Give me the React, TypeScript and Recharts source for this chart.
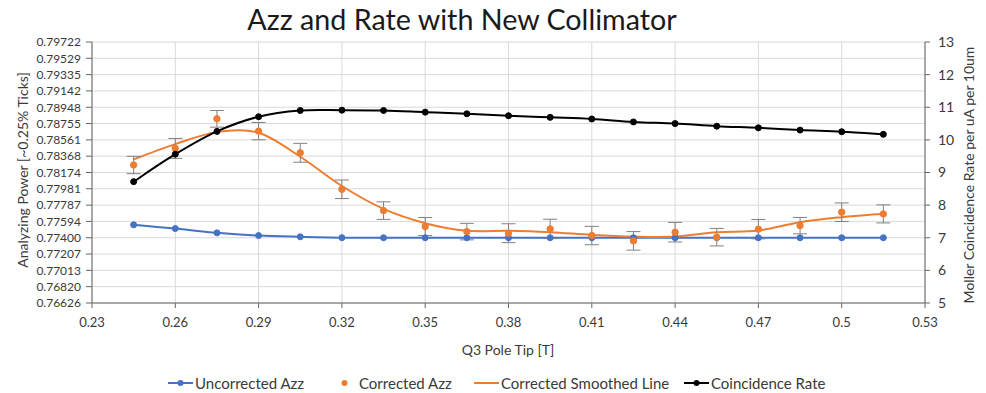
import React from "react";
import {
  ComposedChart,
  Line,
  Scatter,
  ErrorBar,
  XAxis,
  YAxis,
  CartesianGrid,
} from "recharts";

// Q3 pole tip field settings [T]
const poleTip = [
  0.245, 0.26, 0.275, 0.29, 0.305, 0.32, 0.335, 0.35, 0.365, 0.38,
  0.395, 0.41, 0.425, 0.44, 0.455, 0.47, 0.485, 0.5, 0.515,
];

const uncorrectedAzz = [
  0.77553, 0.77509, 0.77458, 0.77426, 0.77411, 0.77401, 0.774, 0.774, 0.774, 0.774,
  0.774, 0.774, 0.774, 0.774, 0.774, 0.774, 0.774, 0.774, 0.774,
];

const correctedAzz = [
  0.78263, 0.7846, 0.78811, 0.78665, 0.78408, 0.77975, 0.77722, 0.77533, 0.77473, 0.77454,
  0.77505, 0.77426, 0.77363, 0.77466, 0.77407, 0.77502, 0.77544, 0.77703, 0.77683,
];

const correctedErr = [
  0.00103, 0.00118, 0.00099, 0.00103, 0.00112, 0.0011, 0.00104, 0.00107, 0.00098, 0.00112,
  0.00115, 0.00109, 0.0011, 0.00116, 0.00104, 0.00115, 0.00097, 0.0011, 0.00107,
];

const smoothedAzz = [
  0.7833, 0.78511, 0.78653, 0.78645, 0.78361, 0.78014, 0.77742, 0.77573, 0.77482, 0.77482,
  0.77466, 0.77434, 0.77414, 0.77414, 0.77466, 0.77485, 0.77585, 0.77644, 0.77686,
];

const coincidenceRate = [
  8.72, 9.56, 10.26, 10.71, 10.9, 10.91, 10.9, 10.85, 10.8, 10.74,
  10.69, 10.64, 10.55, 10.5, 10.42, 10.37, 10.3, 10.25, 10.17,
];

const azzTicks = [
  0.76626, 0.7682, 0.77013, 0.77207, 0.774, 0.77594, 0.77787, 0.77981, 0.78174,
  0.78368, 0.78561, 0.78755, 0.78948, 0.79142, 0.79335, 0.79529, 0.79722,
];
const rateTicks = [5, 6, 7, 8, 9, 10, 11, 12, 13];
const fieldTicks = [0.23, 0.26, 0.29, 0.32, 0.35, 0.38, 0.41, 0.44, 0.47, 0.5, 0.53];

const rows = poleTip.map((x, i) => ({
  x,
  uncorrected: uncorrectedAzz[i],
  corrected: correctedAzz[i],
  err: correctedErr[i],
  smoothed: smoothedAzz[i],
  rate: coincidenceRate[i],
}));

const BLUE = "#4472c4";
const ORANGE = "#ed7d31";
const BLACK = "#000000";
const AXIS = "#666666";
const TEXT = "#3a3a3a";
const FONT = "Lato, 'Open Sans', sans-serif";

// spreadsheet-style smoothed line: cubic Bezier through each point,
// control handles from the neighbouring points (Catmull-Rom, 1/6)
const smoothCurve: any = (context: any) => {
  let pts: number[][] = [];
  return {
    areaStart() {},
    areaEnd() {},
    lineStart() {
      pts = [];
    },
    point(x: number, y: number) {
      pts.push([+x, +y]);
    },
    lineEnd() {
      if (!pts.length) return;
      context.moveTo(pts[0][0], pts[0][1]);
      for (let i = 0; i < pts.length - 1; i++) {
        const p0 = pts[Math.max(i - 1, 0)];
        const p1 = pts[i];
        const p2 = pts[i + 1];
        const p3 = pts[Math.min(i + 2, pts.length - 1)];
        context.bezierCurveTo(
          p1[0] + (p2[0] - p0[0]) / 6,
          p1[1] + (p2[1] - p0[1]) / 6,
          p2[0] - (p3[0] - p1[0]) / 6,
          p2[1] - (p3[1] - p1[1]) / 6,
          p2[0],
          p2[1]
        );
      }
    },
  };
};

const orangeDot = (props: any) => (
  <circle cx={props.cx} cy={props.cy} r={3.2} fill={ORANGE} stroke={ORANGE} />
);

function LegendIcon({ color, line, dot }: { color: string; line: boolean; dot: boolean }) {
  return (
    <svg width={25} height={10} style={{ display: "block" }}>
      {line && <line x1={0} y1={5} x2={25} y2={5} stroke={color} strokeWidth={2} />}
      {dot && <circle cx={12.5} cy={5} r={3} fill={color} />}
    </svg>
  );
}

const legendItems = [
  { label: "Uncorrected Azz", color: BLUE, line: true, dot: true, left: 168 },
  { label: "Corrected Azz", color: ORANGE, line: false, dot: true, left: 332 },
  { label: "Corrected Smoothed Line", color: ORANGE, line: true, dot: false, left: 474 },
  { label: "Coincidence Rate", color: BLACK, line: true, dot: true, left: 684 },
];

export default function App() {
  return (
    <div
      style={{
        position: "absolute",
        left: 0,
        top: 0,
        width: 986,
        height: 393,
        background: "#fff",
        fontFamily: FONT,
        overflow: "hidden",
      }}
    >
      <div
        style={{
          position: "absolute",
          left: 462,
          top: 4,
          transform: "translateX(-50%)",
          fontSize: 28.7,
          lineHeight: "30px",
          whiteSpace: "nowrap",
          color: "#1a1a1a",
        }}
      >
        Azz and Rate with New Collimator
      </div>

      <ComposedChart
        width={986}
        height={393}
        data={rows}
        margin={{ top: 42, right: 0, bottom: 60, left: 0 }}
      >
        <CartesianGrid yAxisId="left" stroke="#d9d9d9" strokeWidth={1} />
        <XAxis
          dataKey="x"
          type="number"
          domain={[0.23, 0.53]}
          ticks={fieldTicks}
          interval={0}
          allowDataOverflow
          height={30}
          tickSize={5}
          tickMargin={10}
          stroke={AXIS}
          tick={{ fontSize: 13, fill: TEXT, fontFamily: FONT }}
          tickFormatter={(v: number) => String(+v.toFixed(2))}
        />
        <YAxis
          yAxisId="left"
          type="number"
          domain={[0.76626, 0.79722]}
          ticks={azzTicks}
          interval={0}
          allowDataOverflow
          width={92}
          tickSize={6}
          tickMargin={5}
          stroke={AXIS}
          tick={{ fontSize: 12, fill: TEXT, fontFamily: FONT }}
          tickFormatter={(v: number) => v.toFixed(5)}
        />
        <YAxis
          yAxisId="right"
          orientation="right"
          type="number"
          domain={[5, 13]}
          ticks={rateTicks}
          interval={0}
          allowDataOverflow
          width={61}
          tickSize={5}
          tickMargin={8}
          stroke={AXIS}
          tick={{ fontSize: 14, fill: TEXT, fontFamily: FONT }}
        />

        <Line
          yAxisId="left"
          dataKey="uncorrected"
          type={smoothCurve}
          stroke={BLUE}
          strokeWidth={2}
          dot={{ r: 3, fill: BLUE, stroke: BLUE, strokeWidth: 1 }}
          activeDot={false}
          isAnimationActive={false}
        />
        <Line
          yAxisId="left"
          dataKey="smoothed"
          type={smoothCurve}
          stroke={ORANGE}
          strokeWidth={2}
          dot={false}
          activeDot={false}
          isAnimationActive={false}
        />
        <Scatter
          yAxisId="left"
          dataKey="corrected"
          fill={ORANGE}
          shape={orangeDot}
          isAnimationActive={false}
        >
          <ErrorBar dataKey="err" direction="y" width={7} stroke="#808080" strokeWidth={1} />
        </Scatter>
        <Line
          yAxisId="right"
          dataKey="rate"
          type={smoothCurve}
          stroke={BLACK}
          strokeWidth={2}
          dot={{ r: 3, fill: BLACK, stroke: BLACK, strokeWidth: 1 }}
          activeDot={false}
          isAnimationActive={false}
        />
      </ComposedChart>

      <div
        style={{
          position: "absolute",
          left: 22,
          top: 170,
          transform: "translate(-50%, -50%) rotate(-90deg)",
          fontSize: 14,
          whiteSpace: "nowrap",
          color: TEXT,
        }}
      >
        Analyzing Power [~0.25% Ticks]
      </div>
      <div
        style={{
          position: "absolute",
          left: 968,
          top: 175,
          transform: "translate(-50%, -50%) rotate(-90deg)",
          fontSize: 14,
          whiteSpace: "nowrap",
          color: TEXT,
        }}
      >
        Moller Coincidence Rate per uA per 10um
      </div>
      <div
        style={{
          position: "absolute",
          left: 508,
          top: 349,
          transform: "translate(-50%, -50%)",
          fontSize: 14,
          whiteSpace: "nowrap",
          color: TEXT,
        }}
      >
        Q3 Pole Tip [T]
      </div>

      {legendItems.map((it) => (
        <div
          key={it.label}
          style={{
            position: "absolute",
            left: it.left,
            top: 383,
            transform: "translateY(-50%)",
            display: "flex",
            alignItems: "center",
            gap: 2,
            fontSize: 15,
            whiteSpace: "nowrap",
            color: TEXT,
          }}
        >
          <LegendIcon color={it.color} line={it.line} dot={it.dot} />
          <span>{it.label}</span>
        </div>
      ))}
    </div>
  );
}
